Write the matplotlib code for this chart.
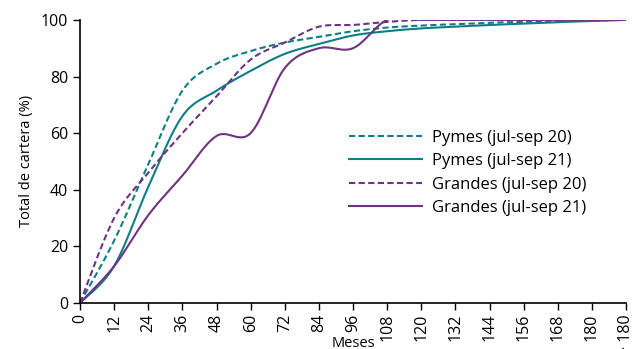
import numpy as np
import matplotlib
matplotlib.use("Agg")
import matplotlib.pyplot as plt

plt.rcParams["font.family"] = ["Open Sans", "DejaVu Sans"]

# Category axis: months
MESES = ["0", "12", "24", "36", "48", "60", "72", "84", "96", "108", "120",
         "132", "144", "156", "168", "180", "> 180"]

PYMES_20 = [0, 22, 49, 75, 84.5, 89, 92, 94, 96, 97.3, 98, 98.5, 99, 99.3, 99.6, 99.8, 100]
PYMES_21 = [0, 13, 41, 66, 75, 82, 88, 91.5, 94.5, 96, 97, 97.6, 98.2, 98.7, 99.2, 99.6, 100]
GRANDES_20 = [0, 30, 46, 60, 73, 86, 92, 97.6, 98.2, 99.3, 100, 100, 100, 100, 100, 100, 100]
GRANDES_21 = [0, 13, 31, 45, 59, 60, 83, 90, 90, 100, 100, 100, 100, 100, 100, 100, 100]

SERIES = [
    ("Pymes (jul-sep 20)", PYMES_20, "#0E7E84", "--"),
    ("Pymes (jul-sep 21)", PYMES_21, "#0E7E84", "-"),
    ("Grandes (jul-sep 20)", GRANDES_20, "#6E3482", "--"),
    ("Grandes (jul-sep 21)", GRANDES_21, "#6E3482", "-"),
]


def smooth(x, y, n=30):
    # Catmull-Rom style smoothing, like the spreadsheet "smoothed line"
    x = np.asarray(x, float)
    y = np.asarray(y, float)
    xs, ys = [], []
    for i in range(len(x) - 1):
        p0 = np.array([x[max(i - 1, 0)], y[max(i - 1, 0)]])
        p1 = np.array([x[i], y[i]])
        p2 = np.array([x[i + 1], y[i + 1]])
        p3 = np.array([x[min(i + 2, len(x) - 1)], y[min(i + 2, len(x) - 1)]])
        c1 = p1 + (p2 - p0) / 6
        c2 = p2 - (p3 - p1) / 6
        t = np.linspace(0, 1, n)[:, None]
        pts = ((1 - t) ** 3 * p1 + 3 * (1 - t) ** 2 * t * c1
               + 3 * (1 - t) * t ** 2 * c2 + t ** 3 * p2)
        xs.extend(pts[:, 0])
        ys.extend(pts[:, 1])
    return np.array(xs), np.array(ys)


fig = plt.figure(figsize=(6.35, 3.49), dpi=100)
ax = fig.add_axes([0.126, 0.132, 0.860, 0.811])

pos = np.arange(len(MESES))
for label, vals, color, ls in SERIES:
    sx, sy = smooth(pos, vals)
    ax.plot(sx, sy, color=color, ls=ls, lw=1.5, label=label,
            dashes=(3, 1.6) if ls == "--" else (None, None))

ax.set_xlim(0, len(MESES) - 1)
ax.set_ylim(0, 100)
ax.set_yticks(range(0, 101, 20))
ax.set_xticks(pos)
ax.set_xticklabels(MESES, rotation=90)
ax.tick_params(axis="both", direction="out", length=5, width=1,
               labelsize=11.5, colors="black")
ax.tick_params(axis="x", pad=3)
for s in ["top", "right"]:
    ax.spines[s].set_visible(False)
for s in ["left", "bottom"]:
    ax.spines[s].set_linewidth(1.2)

ax.set_ylabel("Total de cartera (%)", fontsize=10.5, labelpad=5)
ax.set_xlabel("Meses", fontsize=10.5)
ax.xaxis.set_label_coords(0.5, -0.118)

ax.legend(loc="upper left", bbox_to_anchor=(0.465, 0.665), frameon=False,
          fontsize=12, handlelength=4.4, handletextpad=0.6,
          labelspacing=0.45)

fig.savefig("out.png", dpi=100)
